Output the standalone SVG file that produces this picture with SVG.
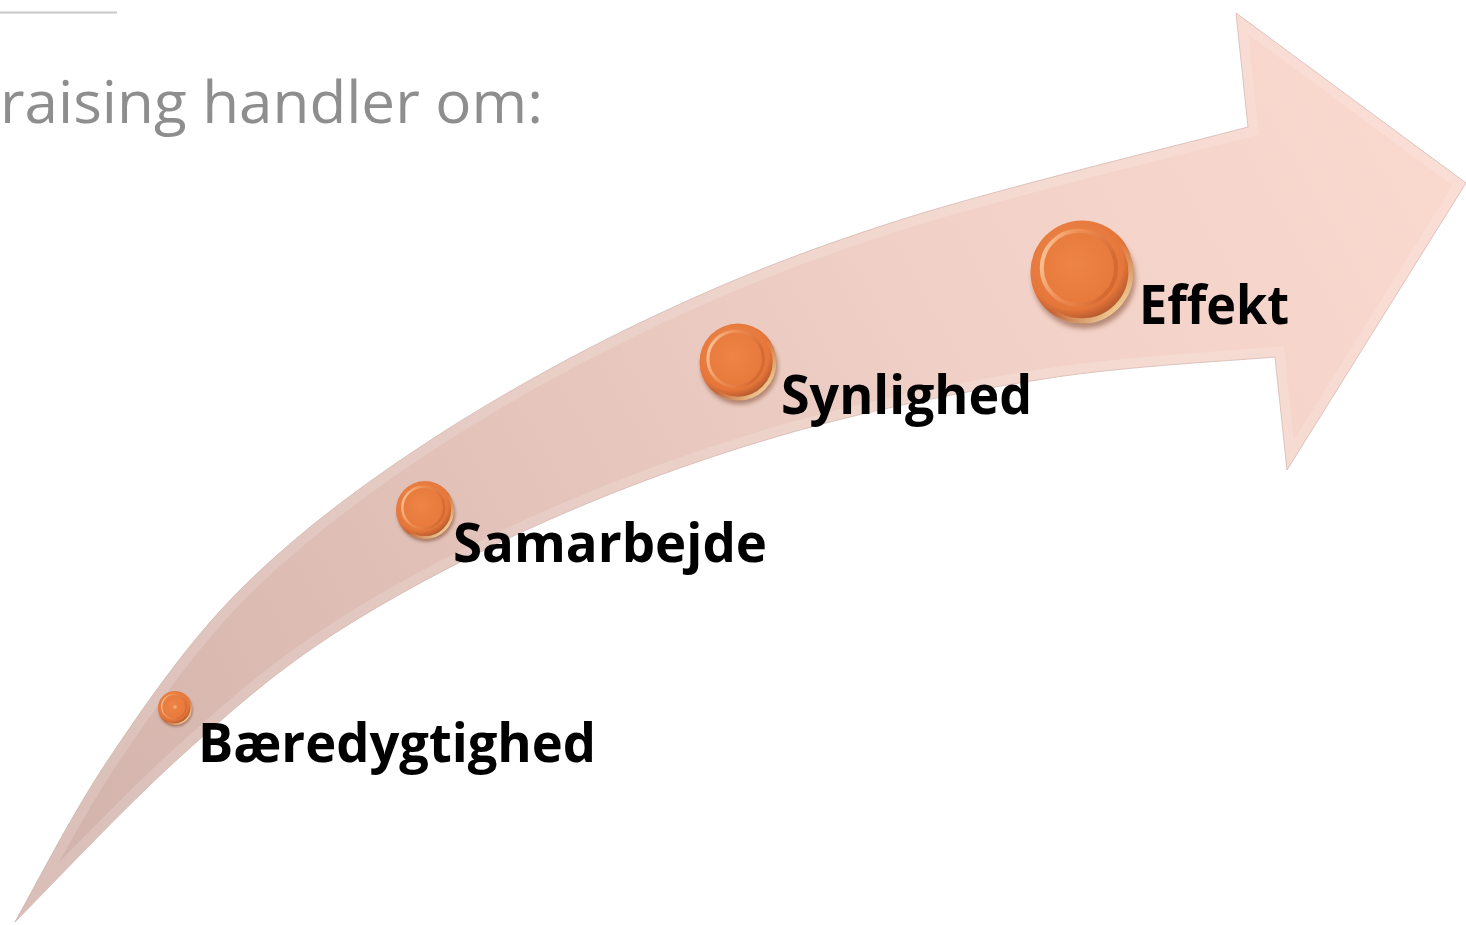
<svg xmlns="http://www.w3.org/2000/svg" xmlns:xlink="http://www.w3.org/1999/xlink" width="1466" height="925" viewBox="0 0 1466 925">
  <style>
    .label { font-family: "Open Sans", "Liberation Sans", sans-serif; font-weight: 700; font-size: 54px; fill: #000; }
    .title { font-family: "Open Sans", "Liberation Sans", sans-serif; font-weight: 400; font-size: 58px; fill: #8e8e8e; }
  </style>
  <defs>
    <linearGradient id="arrowFill" gradientUnits="userSpaceOnUse" x1="40" y1="900" x2="1400" y2="150">
      <stop offset="0" stop-color="#d2b3ab"/>
      <stop offset="0.35" stop-color="#e1c1b8"/>
      <stop offset="0.7" stop-color="#f1d1c7"/>
      <stop offset="1" stop-color="#f9d8ce"/>
    </linearGradient>
    <path id="arrowPath" d="M15,922 C30.8,894.5 72.5,812.3 110,757 C147.5,701.7 188.3,641.7 240,590 C291.7,538.3 351.7,492.3 420,447 C488.3,401.7 570,355.8 650,318 C730,280.2 800.3,251.8 900,220 C999.7,188.2 1190,142.5 1248,127 L1236,13 L1466,183 L1287,470 L1275,357 C1237.5,360.5 1129.2,365.8 1050,378 C970.8,390.2 881.7,407.2 800,430 C718.3,452.8 636.7,481.7 560,515 C483.3,548.3 403.3,589.7 340,630 C276.7,670.3 234.2,708.3 180,757 C125.8,805.7 42.5,894.5 15,922 Z"/>
    <clipPath id="arrowClip">
      <use xlink:href="#arrowPath"/>
    </clipPath>
    <radialGradient id="sBase" cx="0.42" cy="0.38" r="0.62">
      <stop offset="0" stop-color="#f08d50"/>
      <stop offset="0.78" stop-color="#e5763a"/>
      <stop offset="1" stop-color="#a9522b"/>
    </radialGradient>
    <linearGradient id="sRim" x1="0" y1="0" x2="1" y2="1">
      <stop offset="0.55" stop-color="#ffe0a8" stop-opacity="0"/>
      <stop offset="0.9" stop-color="#ffe4aa" stop-opacity="0.9"/>
    </linearGradient>
    <linearGradient id="sInnerStroke" x1="0" y1="0" x2="1" y2="0.3">
      <stop offset="0" stop-color="#fdd3aa"/>
      <stop offset="0.5" stop-color="#f29a60" stop-opacity="0.5"/>
      <stop offset="1" stop-color="#c8602c" stop-opacity="0.6"/>
    </linearGradient>
    <radialGradient id="sInner" cx="0.45" cy="0.45" r="0.6">
      <stop offset="0" stop-color="#ee8447"/>
      <stop offset="1" stop-color="#e6783b"/>
    </radialGradient>
    <filter id="blur" x="-30%" y="-30%" width="160%" height="160%">
      <feGaussianBlur stdDeviation="2.5"/>
    </filter>
    <g id="sphere">
      <ellipse cx="2" cy="6" rx="50" ry="49" fill="#6e3018" opacity="0.45" filter="url(#blur)"/>
      <circle r="50" fill="url(#sBase)"/>
      <circle r="47.5" fill="none" stroke="url(#sRim)" stroke-width="5"/>
      <circle cx="-3" cy="-4" r="36" fill="url(#sInner)" stroke="url(#sInnerStroke)" stroke-width="4"/>
    </g>
  </defs>

  <line x1="0" y1="12.5" x2="117" y2="12.5" stroke="#c8c8c8" stroke-width="2"/>
  <text class="title" x="0" y="123" textLength="543" lengthAdjust="spacingAndGlyphs">raising handler om:</text>

  <g id="connectors">
    <use xlink:href="#arrowPath" fill="url(#arrowFill)" stroke="#c4a197" stroke-width="1" stroke-opacity="0.6"/>
    <use xlink:href="#arrowPath" fill="none" stroke="#ffffff" stroke-opacity="0.16" stroke-width="20" stroke-linejoin="miter" clip-path="url(#arrowClip)"/>
  </g>

  <g id="node-baeredygtighed">
    <use xlink:href="#sphere" transform="translate(175,708) scale(0.34)"/>
    <circle cx="175" cy="707" r="1.8" fill="#f6a877"/>
    <text class="label" x="198" y="762" textLength="398" lengthAdjust="spacingAndGlyphs">Bæredygtighed</text>
  </g>
  <g id="node-samarbejde">
    <use xlink:href="#sphere" transform="translate(425,510) scale(0.58)"/>
    <text class="label" x="453" y="562" textLength="314" lengthAdjust="spacingAndGlyphs">Samarbejde</text>
  </g>
  <g id="node-synlighed">
    <use xlink:href="#sphere" transform="translate(738,362) scale(0.77)"/>
    <text class="label" x="781" y="414" textLength="251" lengthAdjust="spacingAndGlyphs">Synlighed</text>
  </g>
  <g id="node-effekt">
    <use xlink:href="#sphere" transform="translate(1082,272) scale(1.03)"/>
    <text class="label" x="1139" y="324" textLength="150" lengthAdjust="spacingAndGlyphs">Effekt</text>
  </g>
</svg>
